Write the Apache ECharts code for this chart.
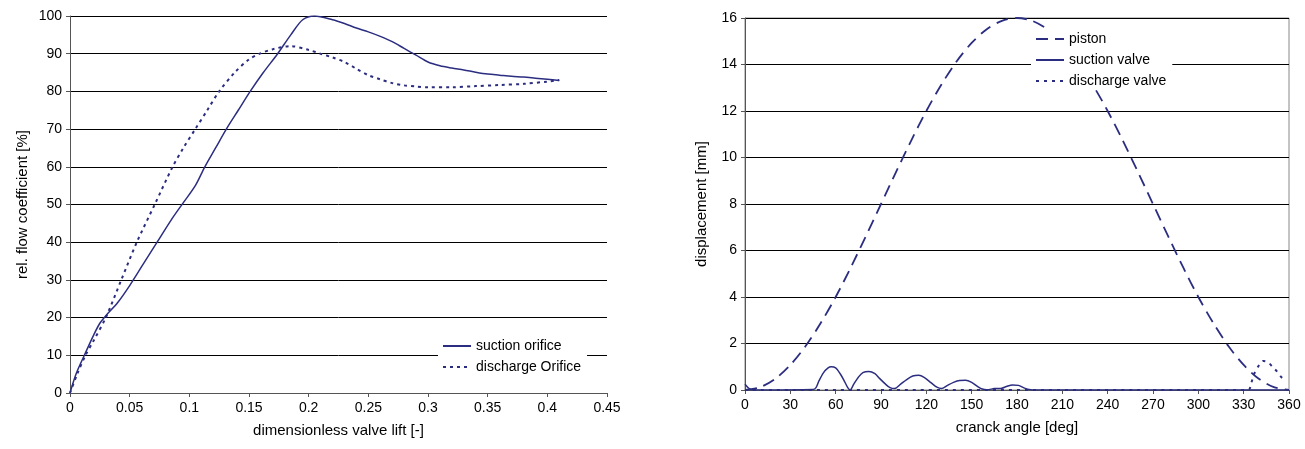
<!DOCTYPE html>
<html>
<head>
<meta charset="utf-8">
<script src="https://cdn.jsdelivr.net/npm/echarts@6/dist/echarts.min.js"></script>
<style>
  html, body { margin: 0; padding: 0; background: #fff; }
  #chart { width: 1305px; height: 449px; }
</style>
</head>
<body>
<div id="chart"></div>
<script>
// Left chart: relative flow coefficient vs. dimensionless valve lift
const liftTicks = [0, 0.05, 0.1, 0.15, 0.2, 0.25, 0.3, 0.35, 0.4, 0.45];
const suctionOrifice = [
    [0, 0], [0.005, 5], [0.012, 10], [0.02, 15.5], [0.025, 18.5], [0.03, 20.5], [0.04, 24],
    [0.05, 28.5], [0.06, 33.5], [0.073, 40], [0.085, 46], [0.095, 50.5],
    [0.105, 55], [0.113, 60], [0.122, 65], [0.131, 70], [0.141, 75], [0.151, 80],
    [0.162, 85], [0.174, 90], [0.185, 95], [0.195, 99], [0.205, 100], [0.22, 99],
    [0.23, 98], [0.24, 96.8], [0.25, 95.8], [0.26, 94.6], [0.27, 93.2], [0.28, 91.4],
    [0.29, 89.6], [0.3, 87.8], [0.31, 86.8], [0.32, 86.2], [0.33, 85.7], [0.34, 85.1],
    [0.35, 84.6], [0.36, 84.3], [0.37, 84], [0.38, 83.8], [0.39, 83.5], [0.4, 83.2], [0.41, 82.9]
];
const dischargeOrifice = [
    [0, 0], [0.006, 5], [0.013, 10], [0.02, 14], [0.03, 20], [0.043, 30], [0.056, 40],
    [0.071, 50], [0.086, 60], [0.095, 65], [0.105, 70], [0.115, 75], [0.125, 80],
    [0.138, 85], [0.15, 88.5], [0.159, 90], [0.17, 91.2], [0.185, 92], [0.2, 91],
    [0.21, 90], [0.22, 89], [0.23, 87.8], [0.24, 86], [0.25, 84.3], [0.26, 83.2],
    [0.27, 82.2], [0.28, 81.6], [0.29, 81.3], [0.3, 81.1], [0.32, 81.1], [0.34, 81.4],
    [0.36, 81.7], [0.38, 82], [0.4, 82.6], [0.41, 83]
];

// Right chart: displacement vs. crank angle
const angleTicks = [0, 30, 60, 90, 120, 150, 180, 210, 240, 270, 300, 330, 360];
const piston = [
    [0, 0], [10, 0.12], [20, 0.48], [30, 1.08], [40, 1.88], [50, 2.87], [60, 4.0],
    [70, 5.27], [80, 6.62], [90, 8.0], [100, 9.38], [110, 10.73], [120, 12.0],
    [130, 13.14], [140, 14.13], [150, 14.93], [160, 15.52], [170, 15.88], [180, 16],
    [190, 15.88], [200, 15.52], [210, 14.93], [220, 14.13], [230, 13.14], [240, 12.0],
    [250, 10.73], [260, 9.38], [270, 8.0], [280, 6.62], [290, 5.27], [300, 4.0],
    [310, 2.87], [320, 1.88], [330, 1.08], [340, 0.48], [350, 0.12], [360, 0]
];
const suctionValve = [
    [0, 0.25], [3, 0.05], [6, 0], [45, 0.02], [47, 0.1], [49, 0.4], [52, 0.75],
    [55, 0.95], [57, 1.0], [60, 0.95], [63, 0.7], [66, 0.35], [68, 0.1], [69.5, 0],
    [72, 0.25], [75, 0.55], [78, 0.75], [82, 0.8], [86, 0.7], [89, 0.5], [93, 0.25],
    [96, 0.1], [99, 0.06], [103, 0.25], [107, 0.45], [111, 0.6], [115, 0.63],
    [119, 0.52], [123, 0.32], [127, 0.12], [130, 0.06], [134, 0.2], [138, 0.33],
    [142, 0.41], [146, 0.42], [150, 0.33], [154, 0.15], [157, 0.04], [160, 0.01],
    [165, 0.06], [170, 0.08], [173, 0.15], [177, 0.22], [181, 0.2], [185, 0.08],
    [189, 0.01], [192, 0], [360, 0]
];
const dischargeValve = [
    [0, 0], [333, 0], [335, 0.3], [337, 0.7], [340, 1.05], [343, 1.25], [346, 1.2],
    [349, 1.0], [352, 0.8], [355, 0.55], [357, 0.45]
];

const navy = '#2b2d80';
const font = 'Liberation Sans, Arial, sans-serif';
const chart = echarts.init(document.getElementById('chart'));

function xAxisFor(gridIndex, min, max, interval, name, fmt) {
    return {
        type: 'value', gridIndex: gridIndex, min: min, max: max, interval: interval,
        name: name, nameLocation: 'middle', nameGap: 30,
        nameTextStyle: { color: '#000', fontSize: 15, fontFamily: font },
        axisLine: { show: true, onZero: false, lineStyle: { color: '#555', width: 1 } },
        axisTick: { show: true, length: 4, lineStyle: { color: '#555' } },
        axisLabel: { color: '#000', fontSize: 14, fontFamily: font, margin: 8, formatter: fmt },
        splitLine: { show: false }
    };
}

function yAxisFor(gridIndex, min, max, interval, name, gap) {
    return {
        type: 'value', gridIndex: gridIndex, min: min, max: max, interval: interval,
        name: name, nameLocation: 'middle', nameGap: gap,
        nameTextStyle: { color: '#000', fontSize: 15, fontFamily: font },
        axisLine: { show: true, lineStyle: { color: '#555', width: 1 } },
        axisTick: { show: true, length: 4, lineStyle: { color: '#555' } },
        axisLabel: { color: '#000', fontSize: 14, fontFamily: font, margin: 8 },
        splitLine: { show: true, lineStyle: { color: '#000', width: 1 } }
    };
}

function lineSeries(name, data, xi, type, width, z) {
    return {
        name: name, type: 'line', xAxisIndex: xi, yAxisIndex: xi, data: data,
        showSymbol: false, symbol: 'none', smooth: 0.3, z: z || 2,
        lineStyle: { color: navy, width: width, type: type },
        itemStyle: { color: navy }
    };
}

function legendFor(names, left, top) {
    return {
        data: names, orient: 'vertical', left: left, top: top,
        backgroundColor: '#fff', padding: [2, 6, 2, 4],
        itemWidth: 28, itemHeight: 10, itemGap: 7,
        itemStyle: { opacity: 0, borderWidth: 0 },
        textStyle: { color: '#000', fontSize: 14, fontFamily: font }
    };
}

chart.setOption({
    animation: false,
    backgroundColor: '#fff',
    grid: [
        { left: 70, right: 698, top: 16, bottom: 56 },
        { left: 745, right: 16, top: 18, bottom: 59, show: true, borderColor: '#888', borderWidth: 1 }
    ],
    xAxis: [
        xAxisFor(0, 0, 0.45, 0.05, 'dimensionless valve lift [-]', function (v) {
            const r = Math.round(v * 100) / 100;
            return liftTicks.indexOf(r) >= 0 ? String(r) : '';
        }),
        xAxisFor(1, 0, 360, 30, 'cranck angle [deg]', function (v) {
            return angleTicks.indexOf(v) >= 0 ? String(v) : '';
        })
    ],
    yAxis: [
        yAxisFor(0, 0, 100, 10, 'rel. flow coefficient [%]', 40),
        yAxisFor(1, 0, 16, 2, 'displacement [mm]', 36)
    ],
    legend: [
        legendFor(['suction orifice', 'discharge Orifice'], 438, 337),
        legendFor(['piston', 'suction valve', 'discharge valve'], 1031, 30)
    ],
    series: [
        lineSeries('suction orifice', suctionOrifice, 0, 'solid', 1.5),
        lineSeries('discharge Orifice', dischargeOrifice, 0, [3, 4], 2),
        lineSeries('piston', piston, 1, [12, 7], 1.8, 3),
        lineSeries('suction valve', suctionValve, 1, 'solid', 1.5),
        lineSeries('discharge valve', dischargeValve, 1, [3, 5], 2)
    ]
});
</script>
</body>
</html>
